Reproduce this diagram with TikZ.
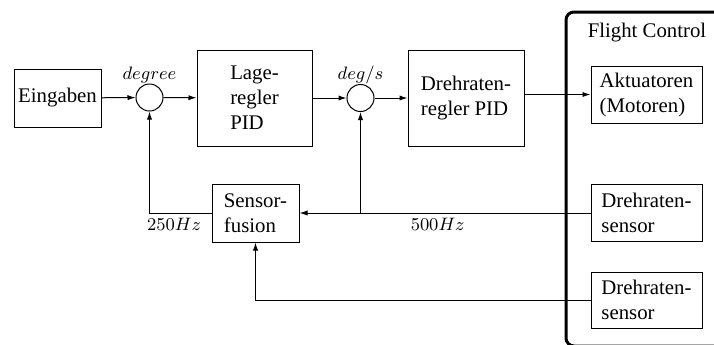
\documentclass[tikz,border=0pt]{standalone}
\usepackage{fontspec}
\setmainfont{Liberation Serif}
\usetikzlibrary{arrows.meta}
\begin{document}
\begin{tikzpicture}[x=0.5pt,y=-0.5pt, font=\fontsize{10.4}{12.5}\selectfont,
  blk/.style={draw, line width=0.5pt, align=left, inner sep=2pt},
  sumc/.style={draw, circle, minimum size=13.5pt, inner sep=0pt, line width=0.5pt},
  conn/.style={line width=0.5pt, -{Latex[length=4pt,width=2.6pt]}},
  mlab/.style={font=\fontsize{8.8}{10}\selectfont, inner sep=0pt}]
\useasboundingbox (0,0) rectangle (714,344);
\begin{scope}
  \clip (0,0) rectangle (714,344);
  \draw[line width=1.5pt, rounded corners=4pt] (566,12) rectangle (740,346);
\end{scope}
\node[blk, minimum width=43.5pt, minimum height=29pt] (ein) at (57.5,98) {Eingaben};
\node[sumc] (s1) at (149.5,97.5) {};
\node[blk, minimum width=57.5pt, minimum height=48pt] (lage) at (254.5,98) {Lage-\\regler\\PID};
\node[sumc] (s2) at (360.5,98) {};
\node[blk, minimum width=58pt, minimum height=48pt] (dreg) at (466,98) {Drehraten-\\regler PID};
\node[blk, minimum width=55.5pt, minimum height=28.5pt] (akt) at (646.5,94.5) {Aktuatoren\\(Motoren)};
\node[blk, minimum width=43.5pt, minimum height=29pt] (fus) at (255.5,213) {Sensor-\\fusion};
\node[blk, minimum width=55.5pt, minimum height=28.5pt] (sen1) at (646.5,213) {Drehraten-\\sensor};
\node[blk, minimum width=55.5pt, minimum height=28pt] (sen2) at (646.5,300) {Drehraten-\\sensor};
\node (fc) at (647,33) {Flight Control};
\node[mlab] (ldeg) at (149.5,74.5) {$degree$};
\node[mlab] (lds) at (360.5,75) {$deg/s$};
\node[mlab] (l250) at (174,224) {$250Hz$};
\node[mlab] (l500) at (437.7,224) {$500Hz$};
\coordinate (j1) at (360.5,213);
\draw[conn] (ein) -- (s1);
\draw[conn] (s1) -- (lage);
\draw[conn] (lage) -- (s2);
\draw[conn] (s2) -- (dreg);
\draw[conn] (dreg.east |- akt.west) -- (akt.west);
\draw[conn] (sen1) -- (fus);
\draw[conn] (j1) -- (s2);
\draw[conn] (fus.west) -| (s1.south);
\draw[conn] (sen2.west) -| (fus.south);
\end{tikzpicture}
\end{document}
